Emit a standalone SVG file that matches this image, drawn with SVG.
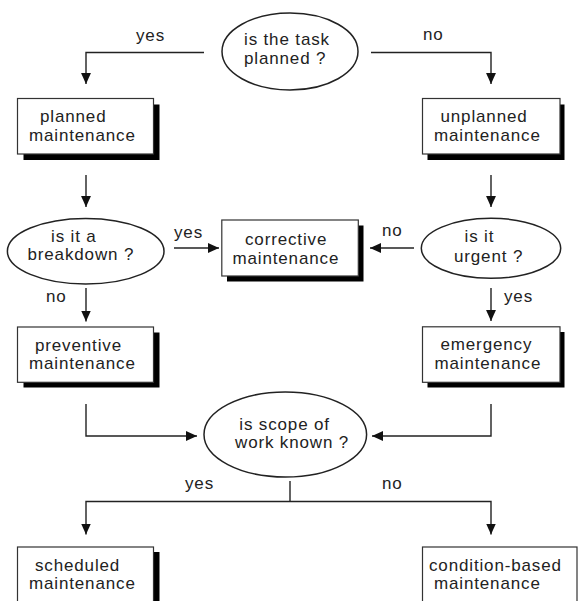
<svg xmlns="http://www.w3.org/2000/svg" width="578" height="601" viewBox="0 0 578 601">
<style>
text{font-family:"Liberation Sans",Arial,sans-serif;font-size:17px;letter-spacing:0.85px;fill:#222}
.box{fill:#fff;stroke:#333;stroke-width:1.2}
.sh{fill:#000}
.el{fill:#fff;stroke:#222;stroke-width:1.5}
.c{fill:none;stroke:#222;stroke-width:1.4}
</style>
<defs>
<marker id="ah" markerUnits="userSpaceOnUse" markerWidth="11" markerHeight="11" viewBox="0 0 10 10" refX="10" refY="5" orient="auto">
<path d="M0,0.5 L10,5 L0,9.5 Z" fill="#111"/>
</marker>
</defs>
<rect width="578" height="601" fill="#fff"/>

<g id="connectors">
<path class="c" d="M204,52.5 H86 V84" marker-end="url(#ah)"/>
<path class="c" d="M371,52.5 H491 V84" marker-end="url(#ah)"/>
<path class="c" d="M86,175 V207" marker-end="url(#ah)"/>
<path class="c" d="M491,175 V207" marker-end="url(#ah)"/>
<path class="c" d="M174,248 H219" marker-end="url(#ah)"/>
<path class="c" d="M414,248 H370" marker-end="url(#ah)"/>
<path class="c" d="M86,288 V321.5" marker-end="url(#ah)"/>
<path class="c" d="M491,288 V321" marker-end="url(#ah)"/>
<path class="c" d="M86,404 V436 H197" marker-end="url(#ah)"/>
<path class="c" d="M491,404 V436 H372" marker-end="url(#ah)"/>
<path class="c" d="M290,481 V501.5"/>
<path class="c" d="M290,501.5 H86 V534.5" marker-end="url(#ah)"/>
<path class="c" d="M290,501.5 H491 V534.5" marker-end="url(#ah)"/>
</g>

<g id="labels">
<text x="136" y="41">yes</text>
<text x="423" y="40">no</text>
<text x="174" y="238">yes</text>
<text x="382" y="236">no</text>
<text x="46" y="302">no</text>
<text x="504" y="302">yes</text>
<text x="185" y="489">yes</text>
<text x="382" y="489">no</text>
</g>

<g id="q-planned">
<ellipse class="el" cx="290" cy="51.5" rx="68" ry="38.5"/>
<text x="244" y="44.5">is the task</text>
<text x="244" y="64">planned ?</text>
</g>

<g id="planned-maintenance">
<rect class="sh" x="23.5" y="104.5" width="136" height="55.5"/>
<rect class="box" x="17.5" y="98.5" width="136" height="55.5"/>
<text x="40" y="122">planned</text>
<text x="29" y="141">maintenance</text>
</g>

<g id="unplanned-maintenance">
<rect class="sh" x="427.5" y="104.5" width="137" height="55.5"/>
<rect class="box" x="422.5" y="98.5" width="137.5" height="55.5"/>
<text x="440.5" y="122">unplanned</text>
<text x="434" y="141">maintenance</text>
</g>

<g id="q-breakdown">
<ellipse class="el" cx="85.7" cy="251.2" rx="78.3" ry="32.8"/>
<text x="51" y="242">is it a</text>
<text x="27.5" y="260">breakdown ?</text>
</g>

<g id="corrective-maintenance">
<rect class="sh" x="227" y="225.5" width="136.5" height="56"/>
<rect class="box" x="221.8" y="220" width="136.5" height="56"/>
<text x="245" y="244.5">corrective</text>
<text x="232.5" y="263.5">maintenance</text>
</g>

<g id="q-urgent">
<ellipse class="el" cx="491" cy="248.3" rx="69.7" ry="30"/>
<text x="464.5" y="242">is it</text>
<text x="454" y="262">urgent ?</text>
</g>

<g id="preventive-maintenance">
<rect class="sh" x="23.5" y="332.5" width="136" height="55"/>
<rect class="box" x="17.5" y="327" width="136" height="55.3"/>
<text x="35" y="351">preventive</text>
<text x="29" y="369">maintenance</text>
</g>

<g id="emergency-maintenance">
<rect class="sh" x="427.5" y="332" width="137" height="55.5"/>
<rect class="box" x="422.5" y="326.8" width="137.5" height="55.5"/>
<text x="440.5" y="350">emergency</text>
<text x="434.5" y="368.5">maintenance</text>
</g>

<g id="q-scope">
<ellipse class="el" cx="285.3" cy="434.5" rx="81.3" ry="42.5"/>
<text x="239.3" y="429.5">is scope of</text>
<text x="235" y="448">work known ?</text>
</g>

<g id="scheduled-maintenance">
<rect class="sh" x="23.5" y="552" width="136" height="60"/>
<rect class="box" x="17.5" y="547" width="136" height="60"/>
<text x="35" y="571">scheduled</text>
<text x="29" y="589">maintenance</text>
</g>

<g id="condition-based-maintenance">
<rect class="box" x="422.5" y="547" width="154.5" height="60"/>
<text x="429" y="571">condition-based</text>
<text x="434" y="589">maintenance</text>
</g>
</svg>
